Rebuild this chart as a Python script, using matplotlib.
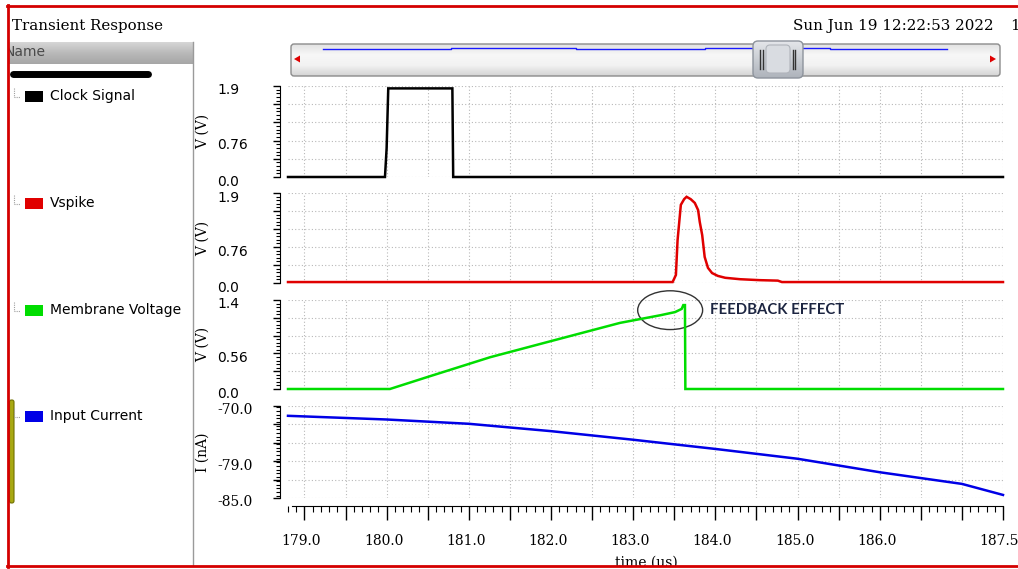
"""
Transient response of the spiking neuron: clock, spike output,
membrane voltage and input current, stacked on a shared time axis.
"""

import numpy as np
import matplotlib
matplotlib.use('Agg')
import matplotlib.pyplot as plt
from matplotlib.colors import LinearSegmentedColormap
from matplotlib.patches import Rectangle, FancyBboxPatch, Ellipse, Polygon
from matplotlib.ticker import FixedLocator, FixedFormatter, MultipleLocator
from matplotlib.transforms import ScaledTranslation


# signals (time in us)
clock_t = [178.8, 179.98, 180.0, 180.02, 180.80, 180.81, 187.5]
clock_v = [0.0, 0.0, 0.6, 1.85, 1.85, 0.0, 0.0]

vspike_t = [178.8, 183.48, 183.52, 183.54, 183.58, 183.62, 183.65, 183.70,
            183.75, 183.79, 183.81, 183.84, 183.87, 183.91, 183.96, 184.03,
            184.12, 184.30, 184.54, 184.76, 184.81, 187.5]
vspike_v = [0.02, 0.02, 0.17, 0.90, 1.65, 1.77, 1.82, 1.77,
            1.69, 1.54, 1.29, 1.01, 0.55, 0.32, 0.21, 0.15,
            0.11, 0.08, 0.06, 0.05, 0.02, 0.02]

vmem_t = [178.8, 180.04, 180.5, 181.26, 181.99, 182.84, 183.33, 183.51,
          183.59, 183.61, 183.63, 183.635, 187.5]
vmem_v = [0.0, 0.0, 0.19, 0.50, 0.75, 1.04, 1.16, 1.21,
          1.26, 1.32, 1.32, 0.0, 0.0]

iin_t = [178.8, 180.0, 181.0, 182.0, 183.0, 184.0, 185.0, 186.0, 187.0, 187.5]
iin_v = [-71.6, -72.2, -72.9, -74.1, -75.5, -77.0, -78.6, -80.8, -82.7, -84.5]

signal_names = ['Clock Signal', 'Vspike', 'Membrane Voltage', 'Input Current']
signal_colors = ['#000000', '#e00000', '#00dd00', '#0000e6']
y_units = ['V (V)', 'V (V)', 'V (V)', 'I (nA)']
y_ranges = [(0.0, 1.9), (0.0, 1.9), (0.0, 1.4), (-85.0, -70.0)]
y_ticklabels = [['0.0', '', '0.76', '', '', '1.9'],
                ['0.0', '', '0.76', '', '', '1.9'],
                ['0.0', '', '0.56', '', '', '1.4'],
                ['-85.0', '', '-79.0', '', '', '-70.0']]
y_tickfont = ['DejaVu Sans', 'DejaVu Sans', 'DejaVu Sans', 'DejaVu Serif']

x_range = (178.8, 187.5)
x_labelled = [179.0, 180.0, 181.0, 182.0, 183.0, 184.0, 185.0, 186.0, 187.5]

series = [(clock_t, clock_v), (vspike_t, vspike_v),
          (vmem_t, vmem_v), (iin_t, iin_v)]

# layout in pixels
W, H = 1018, 569
PLOT_L, PLOT_R = 288, 1003
panel_rows = [(86, 177), (193, 283), (300, 389), (406, 498)]
legend_rows = [96, 203, 310, 416]

fig = plt.figure(figsize=(W / 100, H / 100), dpi=100)


def px_axes(x0, y0, x1, y1, **kw):
    return fig.add_axes([x0 / W, 1 - y1 / H, (x1 - x0) / W, (y1 - y0) / H], **kw)


def px_shift(dx, dy):
    return ScaledTranslation(dx / 100, -dy / 100, fig.dpi_scale_trans)


def gradient(ax, extent, colors, clip):
    cmap = LinearSegmentedColormap.from_list('g', colors)
    im = ax.imshow(np.linspace(0, 1, 64).reshape(-1, 1), cmap=cmap,
                   extent=extent, aspect='auto', origin='upper', zorder=1)
    im.set_clip_path(clip)
    return im


# ---- window chrome ----
bg = px_axes(0, 0, W, H, zorder=0)
bg.axis('off')

serif = 'DejaVu Serif'
bg.text(12, 26, 'Transient Response', family=serif, fontsize=10.8,
        va='center', ha='left')
bg.text(793, 26, 'Sun Jun 19 12:22:53 2022', family=serif, fontsize=10.9,
        va='center', ha='left')
bg.text(1010, 26, '1', family=serif, fontsize=10.9, va='center', ha='left')

# name column header
hdr = Rectangle((9, 42), 184, 22, facecolor='none', edgecolor='none')
bg.add_patch(hdr)
gradient(bg, (8, 193, 64, 42), ['#d6d6d6', '#b9b9b9', '#a6a6a6'], hdr)
t = bg.text(5, 52, 'Name', family='DejaVu Sans', fontsize=10, color='#4a4a4a',
            va='center', ha='left', zorder=3)
t.set_clip_on(True)
t.set_clip_path(hdr)
bg.plot([193, 193], [42, 566], color='#9a9a9a', lw=1, zorder=2)
bg.plot([13, 148], [73.5, 73.5], color='black', lw=5, solid_capstyle='round')

# legend entries
for name, col, yy in zip(signal_names, signal_colors, legend_rows):
    bg.plot([14, 14, 20], [yy - 8, yy + 1, yy + 1], color='#a0a0a0',
            lw=0.8, ls=(0, (1, 1)))
    bg.add_patch(Rectangle((25, yy - 5), 18, 11, facecolor=col,
                           edgecolor='none'))
    bg.text(50, yy, name, family='DejaVu Sans', fontsize=10,
            va='center', ha='left')

bg.add_patch(FancyBboxPatch((9.5, 400), 4.5, 103,
                            boxstyle='round,pad=0,rounding_size=2',
                            facecolor='#a8a812', edgecolor='#707000', lw=0.8))

# scroll bar
bar = FancyBboxPatch((291, 44), 709, 32, boxstyle='round,pad=0,rounding_size=3',
                     facecolor='none', edgecolor='#8c8c8c', lw=1, zorder=3)
bg.add_patch(bar)
gradient(bg, (291, 1000, 76, 44),
         ['#e2e2e2', '#f7f7f7', '#f2f2f2', '#d4d4d4'], bar)
bg.step([323, 451, 576, 705, 760, 808, 830, 947],
        [48.5, 47.5, 48.5, 47.5, 47.5, 47.5, 48.5, 48.5],
        where='post', color='#1a1aff', lw=1, zorder=4)
bg.add_patch(Polygon([[294, 59], [300, 55.5], [300, 62.5]],
                     facecolor='#e00000', edgecolor='none', zorder=4))
bg.add_patch(Polygon([[996, 59], [990, 55.5], [990, 62.5]],
                     facecolor='#e00000', edgecolor='none', zorder=4))
thumb = FancyBboxPatch((753, 41), 50, 37, boxstyle='round,pad=0,rounding_size=5',
                       facecolor='none', edgecolor='#8d939c', lw=1, zorder=6)
bg.add_patch(thumb)
im = gradient(bg, (753, 803, 78, 41), ['#e4e6ea', '#c9cdd3', '#aeb3bb'], thumb)
im.set_zorder(5)
bg.add_patch(FancyBboxPatch((766, 45), 24, 28, boxstyle='round,pad=0,rounding_size=4',
                            facecolor='#d9dce1', edgecolor='#b0b4bb', lw=0.8,
                            zorder=6))
for xx in (760.5, 763, 793, 795.5):
    bg.plot([xx, xx], [50, 69], color='#333333', lw=1, zorder=7)

bg.text(646, 567, 'time (us)', family=serif, fontsize=10, ha='center',
        va='baseline')

bg.set_xlim(0, W)
bg.set_ylim(H, 0)

# ---- stacked signal panels ----
grid_kw = dict(color='#b8b8b8', linestyle=(0, (1, 2)), linewidth=0.8)
axes = []
for i, (top, bot) in enumerate(panel_rows):
    ax = px_axes(PLOT_L, top, PLOT_R, bot, zorder=2)
    ax.set_facecolor('none')
    lo, hi = y_ranges[i]
    t_, v_ = series[i]
    ax.plot(t_, v_, color=signal_colors[i], lw=1.8, clip_on=False,
            solid_joinstyle='miter')
    ax.set_xlim(*x_range)
    ax.set_ylim(lo, hi)
    for s in ('top', 'right', 'bottom'):
        ax.spines[s].set_visible(False)
    ax.spines['left'].set_position(('outward', 5.8))
    ax.set_xticks(np.arange(179.0, 187.51, 0.5))
    ax.tick_params(axis='x', length=0, labelbottom=False)
    ax.yaxis.set_major_locator(FixedLocator(np.linspace(lo, hi, 6)))
    ax.yaxis.set_major_formatter(FixedFormatter(y_ticklabels[i]))
    ax.yaxis.set_minor_locator(MultipleLocator((hi - lo) / 25))
    ax.tick_params(axis='y', which='major', length=5, width=1, pad=40)
    ax.tick_params(axis='y', which='minor', length=3, width=0.8)
    for tk in ax.yaxis.get_major_ticks():
        lab = tk.label1
        lab.set_horizontalalignment('left')
        lab.set_family(y_tickfont[i])
        lab.set_fontsize(10)
        lab.set_transform(lab.get_transform() + px_shift(0, 3))
    ax.set_ylabel(y_units[i], family=serif, fontsize=10, labelpad=0)
    ax.yaxis.set_label_coords(-(PLOT_L - 210) / (PLOT_R - PLOT_L), 0.5)
    ax.grid(True, which='major', **grid_kw)
    ax.set_axisbelow(True)
    axes.append(ax)

# feedback marker on the membrane voltage
ax3 = axes[2]
ax3.add_patch(Ellipse((183.45, 1.24), 0.79, 0.61, facecolor='none',
                      edgecolor='#333333', lw=1, clip_on=False))
ax3.text(183.93, 1.24, 'FEEDBACK EFFECT', family='Lato', fontweight='bold',
         fontsize=10.7, color='#1c2541', va='center', ha='left')

# shared time ruler
rul = px_axes(PLOT_L, 500, PLOT_R, 506, zorder=2)
rul.set_facecolor('none')
rul.set_xlim(*x_range)
for s in ('top', 'right', 'left'):
    rul.spines[s].set_visible(False)
rul.spines['bottom'].set_bounds(178.85, 187.5)
rul.set_yticks([])
majors = np.arange(179.0, 187.51, 0.5)
rul.xaxis.set_major_locator(FixedLocator(majors))
rul.xaxis.set_major_formatter(FixedFormatter(
    [f'{m:.1f}' if m in x_labelled else '' for m in majors]))
rul.xaxis.set_minor_locator(MultipleLocator(0.1))
rul.tick_params(axis='x', which='major', length=10, width=1, pad=10)
rul.tick_params(axis='x', which='minor', length=4.3, width=0.8)
for m, tk in zip(majors, rul.xaxis.get_major_ticks()):
    lab = tk.label1
    lab.set_family(serif)
    lab.set_fontsize(10)
    dx = -4 if m == majors[-1] else -3
    lab.set_transform(lab.get_transform() + px_shift(dx, 0))

# ---- window border on top ----
fr = px_axes(0, 0, W, H, zorder=10)
fr.axis('off')
fr.set_facecolor('none')
fr.add_patch(Rectangle((0, 567), W, 3, facecolor='white', edgecolor='none'))
fr.plot([8, 8], [5, 567], color='#d40000', lw=2)
fr.plot([7, W], [6, 6], color='#d40000', lw=2)
fr.plot([7, W], [566, 566], color='#d40000', lw=2)
fr.set_xlim(0, W)
fr.set_ylim(H, 0)

fig.savefig('out.png', dpi=100)
